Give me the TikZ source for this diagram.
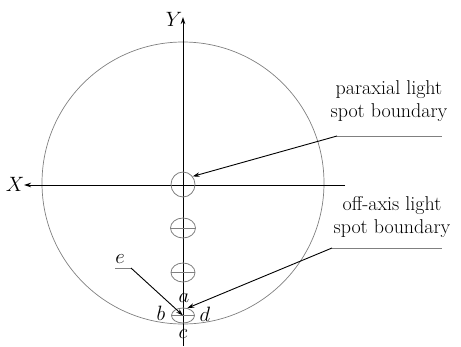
\documentclass[tikz,border=0pt]{standalone}
\usepackage{fontspec}
\usetikzlibrary{arrows.meta,shapes.geometric}

\begin{document}
\begin{tikzpicture}[>={Stealth[length=7pt,width=4.5pt]},x=1pt,y=-1pt,
  every node/.style={font=\fontsize{20}{23.5}\selectfont,inner sep=0pt},
  spot/.style={ellipse,draw=gray,line width=0.8pt,inner sep=0pt},
  leader/.style={gray,line width=0.9pt}]
  \useasboundingbox (0,0) rectangle (461,346);

  % field circle and axes
  \draw[gray,line width=0.7pt] (183,183) circle (141pt);
  \draw[->,line width=0.9pt] (183,346) -- (183,17);
  \draw[->,line width=0.9pt] (345,185) -- (24,185);
  \node (ylab) at (174,19.5) {$Y$};
  \node (xlab) at (15,184) {$X$};

  % spots
  \node[spot,minimum width=24pt,minimum height=25pt] (s0) at (183,184.5) {};
  \node[spot,minimum width=25pt,minimum height=20pt] (s1) at (183,228) {};
  \node[spot,minimum width=24pt,minimum height=19pt] (s2) at (183,272.5) {};
  \node[spot,minimum width=23pt,minimum height=15pt] (s3) at (183,315.5) {};
  \foreach \s in {s1,s2,s3}
    \draw[gray,line width=0.8pt] (\s.west) -- (\s.east);

  % letters round the last spot
  \node (la) at (184,298) {$a$};
  \node (lb) at (161,313) {$b$};
  \node (lc) at (183,334) {$c$};
  \node (ld) at (205,314) {$d$};

  % labels and leaders
  \node[align=center] (par) at (389,101) {paraxial light\\spot boundary};
  \coordinate (pa) at (337,136);
  \draw[leader] (pa) -- (442,136);
  \draw[->,line width=0.9pt] (pa) -- (s0.40);

  \node[align=center] (off) at (392,217) {off-axis light\\spot boundary};
  \coordinate (oa) at (332,248);
  \draw[leader] (oa) -- (442,248);
  \draw[->,line width=0.9pt] (oa) -- (s3.60);

  \node (le) at (120,259) {$e$};
  \coordinate (ea) at (131,268);
  \draw[leader] (115,268) -- (ea);
  \draw[->,line width=0.9pt] (ea) -- (s3.center);
\end{tikzpicture}
\end{document}
